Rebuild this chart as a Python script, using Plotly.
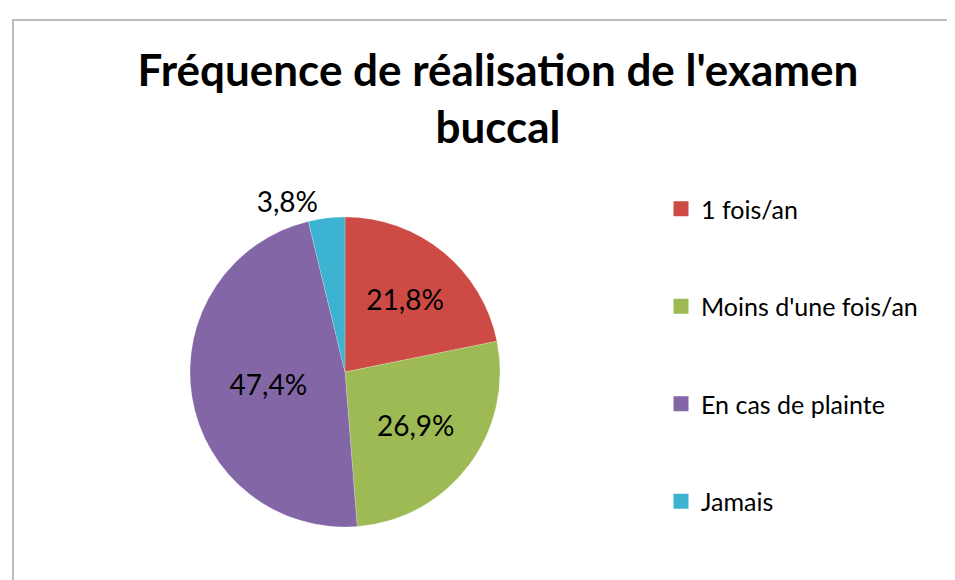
import plotly.graph_objects as go

# data
categories = ["1 fois/an", "Moins d'une fois/an", "En cas de plainte", "Jamais"]
pourcentages = [21.8, 26.9, 47.4, 3.8]
couleurs = ["#CD4B44", "#9DBA55", "#8366A5", "#3BB3D1"]
titre = "Fréquence de réalisation de l'examen<br>buccal"

etiquettes = [f"{v:.1f}%".replace(".", ",") for v in pourcentages]
positions = ["inside", "inside", "inside", "outside"]

W, H = 955, 580
fig = go.Figure()

fig.add_trace(go.Pie(
    labels=categories,
    values=pourcentages,
    text=etiquettes,
    textinfo="text",
    textposition=positions,
    insidetextorientation="horizontal",
    textfont=dict(family="Lato", size=28, color="black"),
    marker=dict(colors=couleurs, line=dict(color="rgba(255,255,255,0.4)", width=0.5)),
    sort=False,
    direction="clockwise",
    rotation=0,
    showlegend=False,
    hoverinfo="label+percent",
    domain=dict(x=[182 / W, 492 / W], y=[(H - 519) / H, (H - 209) / H]),
))

# legend entries (one group each so the spacing can be opened up)
for cat, col in zip(categories, couleurs):
    fig.add_trace(go.Scatter(
        x=[None], y=[None], mode="markers", name=cat,
        legendgroup=cat,
        marker=dict(symbol="square", size=15, color=col),
    ))

fig.update_layout(
    width=W, height=H,
    margin=dict(l=0, r=0, t=0, b=0),
    paper_bgcolor="white",
    plot_bgcolor="white",
    title=dict(
        text=titre, x=490 / W, xanchor="center", y=(H - 78) / H, yanchor="top",
        font=dict(family="Lato", size=44, color="black", weight="bold"),
    ),
    xaxis=dict(visible=False),
    yaxis=dict(visible=False),
    legend=dict(
        x=653 / W, xanchor="left", y=(H - 178) / H, yanchor="top",
        font=dict(family="Lato", size=25, color="black"),
        tracegroupgap=62, itemwidth=30, bgcolor="rgba(0,0,0,0)",
    ),
    shapes=[dict(
        type="rect", xref="paper", yref="paper",
        x0=5 / W, x1=1.02, y0=-0.05, y1=(H - 12) / H,
        line=dict(color="#A6A6A6", width=1.5),
    )],
)

fig.write_html("out.html")
